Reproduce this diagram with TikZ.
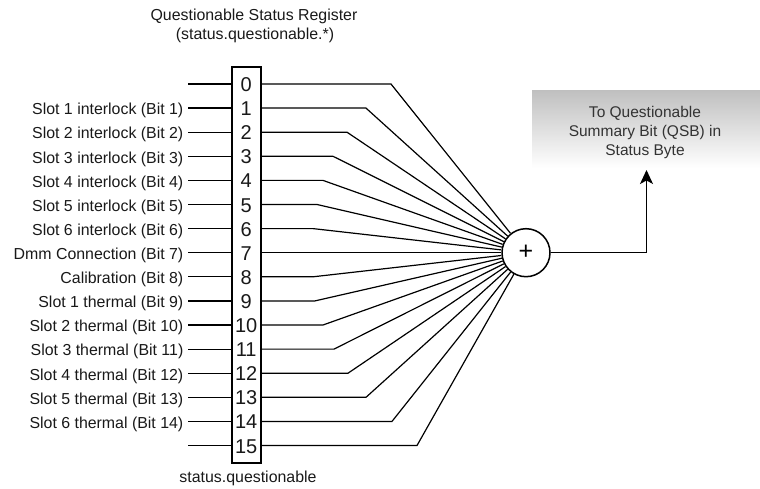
\documentclass[tikz,border=0pt]{standalone}
\usepackage{fontspec}
\setmainfont{Liberation Sans}
\usetikzlibrary{arrows.meta,calc}
\begin{document}
\begin{tikzpicture}[x=1pt,y=-1pt,
  lbl/.style={anchor=base east, inner xsep=4.5pt, inner ysep=0pt, font=\fontsize{15.9}{19}\selectfont, text=black!90},
  ttl/.style={anchor=base, inner sep=0pt, font=\fontsize{15.9}{19}\selectfont, text=black!90},
  digit/.style={anchor=base, inner sep=0pt, font=\fontsize{20}{24}\selectfont, text=black!90},
  wire/.style={line width=1.2pt},
  regbox/.style={draw, line width=1.8pt, minimum width=29pt, minimum height=396.6pt, inner sep=0pt},
  sumnode/.style={circle, draw, line width=1.5pt, minimum size=48pt, inner sep=0pt, fill=white, font=\fontsize{25}{28}\selectfont},
  qsbbox/.style={shade, top color={rgb,255:red,192;green,192;blue,192}, bottom color=white, minimum width=228pt, minimum height=77.3pt, inner sep=0pt},
  qsbtxt/.style={align=center, inner sep=0pt, font=\fontsize{15.5}{19}\selectfont, text=black!80}
]
\useasboundingbox (0,0) rectangle (760,489);

% titles
\node[ttl] (title1) at (254,21) {Questionable Status Register};
\node[ttl] (title2) at (255,40) {(status.questionable.*)};
\node[ttl] (regname) at (248,482) {status.questionable};

% register
\node[regbox] (reg) at (246.2,265) {};
\foreach \i in {0,...,15} {
  \coordinate (row\i) at (246.2,{84+24.1*\i});
  \node[digit] (bit\i) at ($(row\i)+(0,7.5)$) {\i};
}

% summation node
\node[sumnode] (sum) at (526,{84+24.1*7}) {+};

% input labels
\foreach \i/\t in {1/{Slot 1 interlock (Bit 1)},2/{Slot 2 interlock (Bit 2)},3/{Slot 3 interlock (Bit 3)},4/{Slot 4 interlock (Bit 4)},5/{Slot 5 interlock (Bit 5)},6/{Slot 6 interlock (Bit 6)},7/{Dmm Connection (Bit 7)},8/{Calibration (Bit 8)},9/{Slot 1 thermal (Bit 9)},10/{Slot 2 thermal (Bit 10)},11/{Slot 3 thermal (Bit 11)},12/{Slot 4 thermal (Bit 12)},13/{Slot 5 thermal (Bit 13)},14/{Slot 6 thermal (Bit 14)}} {
  \node[lbl] (lab\i) at (188,{84+24.1*\i+6.8}) {\t};
  \draw[wire] (lab\i.east |- row\i) -- (reg.west |- row\i);
}
\coordinate (ls0) at (188,84);
\coordinate (ls15) at (188,{84+24.1*15});
\draw[wire] (ls0) -- (reg.west |- row0);
\draw[wire] (ls15) -- (reg.west |- row15);

% fan-in wires
\foreach \i/\bx in {0/391,1/366,2/347,3/333,4/323,5/317,6/313,7/312,8/313,9/315,10/323,11/334,12/348,13/366,14/392,15/417} {
  \coordinate (bend\i) at (\bx,{84+24.1*\i});
  \draw[wire] (reg.east |- row\i) -- (bend\i) -- (sum);
}

% output box
\node[qsbbox] (qsb) at (646,129.4) {};
\node[qsbtxt] (qsbtext) at (645,132) {To Questionable\\Summary Bit (QSB) in\\Status Byte};
\coordinate (qsbin) at (646.5,170);
\draw[wire, -{Stealth[length=14pt,width=13pt,inset=3.5pt]}] (sum.east) -| (qsbin);
\end{tikzpicture}
\end{document}
